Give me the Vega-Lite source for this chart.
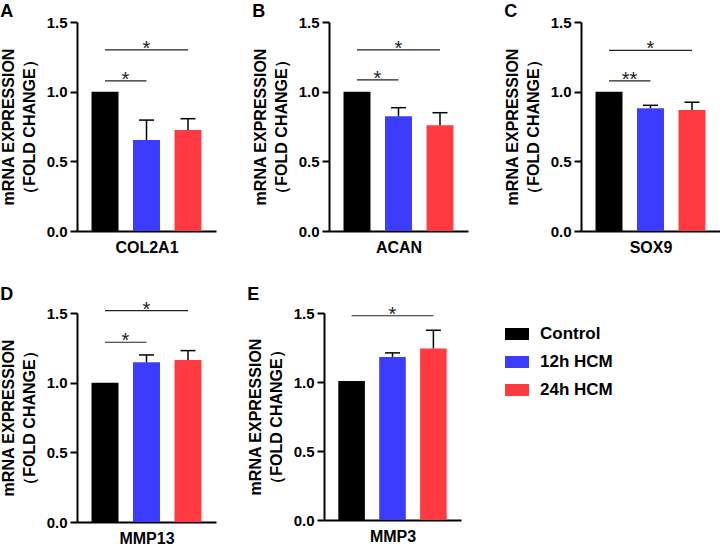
{
  "$schema": "https://vega.github.io/schema/vega-lite/v6.json",
  "background": "white",
  "padding": {"left": 0, "top": 3, "right": 0, "bottom": 0},
  "config": {
    "font": "Liberation Sans",
    "view": {"stroke": null},
    "axis": {
      "grid": false,
      "domainColor": "black",
      "domainWidth": 2,
      "tickColor": "black",
      "tickWidth": 2,
      "labelColor": "black",
      "titleColor": "black",
      "labelFont": "Liberation Sans",
      "titleFont": "Liberation Sans",
      "labelFontWeight": "bold",
      "titleFontWeight": "bold",
      "labelFontSize": 15,
      "titleFontSize": 16
    },
    "axisY": {
      "tickSize": 7,
      "labelPadding": 3,
      "titlePadding": 9,
      "titleLineHeight": 21
    },
    "axisX": {"ticks": false, "labels": false, "titlePadding": 8},
    "text": {"fontSize": 20, "baseline": "alphabetic", "dy": 5, "color": "#222222"},
    "title": {"anchor": "start", "frame": "bounds", "fontSize": 18, "fontWeight": "bold", "color": "black", "offset": -6}
  },
  "datasets": {
    "bars": [
      {"gene": "COL2A1", "group": "Control", "mean": 1.0, "upper": 1.0},
      {"gene": "COL2A1", "group": "12h HCM", "mean": 0.653, "upper": 0.796},
      {"gene": "COL2A1", "group": "24h HCM", "mean": 0.724, "upper": 0.806},
      {"gene": "ACAN", "group": "Control", "mean": 1.0, "upper": 1.0},
      {"gene": "ACAN", "group": "12h HCM", "mean": 0.823, "upper": 0.885},
      {"gene": "ACAN", "group": "24h HCM", "mean": 0.759, "upper": 0.849},
      {"gene": "SOX9", "group": "Control", "mean": 1.0, "upper": 1.0},
      {"gene": "SOX9", "group": "12h HCM", "mean": 0.881, "upper": 0.902},
      {"gene": "SOX9", "group": "24h HCM", "mean": 0.869, "upper": 0.924},
      {"gene": "MMP13", "group": "Control", "mean": 1.0, "upper": 1.0},
      {"gene": "MMP13", "group": "12h HCM", "mean": 1.146, "upper": 1.199},
      {"gene": "MMP13", "group": "24h HCM", "mean": 1.163, "upper": 1.23},
      {"gene": "MMP3", "group": "Control", "mean": 1.008, "upper": 1.008},
      {"gene": "MMP3", "group": "12h HCM", "mean": 1.182, "upper": 1.211},
      {"gene": "MMP3", "group": "24h HCM", "mean": 1.243, "upper": 1.375}
    ],
    "sig": [
      {"gene": "COL2A1", "from": "Control", "to": "12h HCM", "span": 1, "y": 1.077, "label": "*"},
      {"gene": "COL2A1", "from": "Control", "to": "24h HCM", "span": 2, "y": 1.3, "label": "*"},
      {"gene": "ACAN", "from": "Control", "to": "12h HCM", "span": 1, "y": 1.084, "label": "*"},
      {"gene": "ACAN", "from": "Control", "to": "24h HCM", "span": 2, "y": 1.3, "label": "*"},
      {"gene": "SOX9", "from": "Control", "to": "12h HCM", "span": 1, "y": 1.077, "label": "**"},
      {"gene": "SOX9", "from": "Control", "to": "24h HCM", "span": 2, "y": 1.297, "label": "*"},
      {"gene": "MMP13", "from": "Control", "to": "12h HCM", "span": 1, "y": 1.29, "label": "*"},
      {"gene": "MMP13", "from": "Control", "to": "24h HCM", "span": 2, "y": 1.517, "label": "*"},
      {"gene": "MMP3", "from": "Control", "to": "24h HCM", "span": 2, "y": 1.48, "label": "*"}
    ]
  },
  "resolve": {"scale": {"color": "independent"}, "legend": {"color": "independent"}},
  "spacing": 30,
  "vconcat": [
    {
      "spacing": 36,
      "resolve": {"scale": {"color": "independent"}, "legend": {"color": "independent"}},
      "hconcat": [
        {
          "width": 139, "height": 209,
          "title": {"text": "A"},
          "layer": [
            {
              "data": {"name": "bars"},
              "transform": [{"filter": "datum.gene === 'COL2A1'"}],
              "mark": {"type": "bar"},
              "encoding": {
                "x": {"field": "group", "type": "nominal", "title": "COL2A1", "scale": {"domain": ["Control", "12h HCM", "24h HCM"], "paddingInner": 0.35, "paddingOuter": 0.35}},
                "y": {"field": "mean", "type": "quantitative", "title": ["mRNA EXPRESSION", "（FOLD CHANGE）"], "axis": {"values": [0, 0.5, 1, 1.5], "format": ".1f"}, "scale": {"domain": [0, 1.5], "nice": false}},
                "color": {"field": "group", "type": "nominal", "legend": null, "scale": {"domain": ["Control", "12h HCM", "24h HCM"], "range": ["#000000", "#3c3cff", "#ff3b41"]}}
              }
            },
            {
              "data": {"name": "bars"},
              "transform": [{"filter": "datum.gene === 'COL2A1' && datum.upper > datum.mean"}],
              "mark": {"type": "rule", "color": "black", "strokeWidth": 1.5},
              "encoding": {
                "x": {"field": "group", "type": "nominal"},
                "y": {"field": "mean", "type": "quantitative"},
                "y2": {"field": "upper"}
              }
            },
            {
              "data": {"name": "bars"},
              "transform": [{"filter": "datum.gene === 'COL2A1' && datum.upper > datum.mean"}],
              "mark": {"type": "tick", "orient": "horizontal", "size": 15, "thickness": 1.5, "color": "black", "opacity": 1},
              "encoding": {
                "x": {"field": "group", "type": "nominal"},
                "y": {"field": "upper", "type": "quantitative"}
              }
            },
            {
              "data": {"name": "sig"},
              "transform": [{"filter": "datum.gene === 'COL2A1'"}],
              "mark": {"type": "rule", "color": "#222222", "strokeWidth": 1.2},
              "encoding": {
                "x": {"field": "from", "type": "nominal"},
                "x2": {"field": "to"},
                "y": {"field": "y", "type": "quantitative"}
              }
            },
            {
              "data": {"name": "sig"},
              "transform": [{"filter": "datum.gene === 'COL2A1' && datum.span === 1"}],
              "mark": {"type": "text", "dx": -21},
              "encoding": {
                "x": {"field": "to", "type": "nominal"},
                "y": {"field": "y", "type": "quantitative"},
                "text": {"field": "label"}
              }
            },
            {
              "data": {"name": "sig"},
              "transform": [{"filter": "datum.gene === 'COL2A1' && datum.span === 2"}],
              "mark": {"type": "text", "dx": -41.5},
              "encoding": {
                "x": {"field": "to", "type": "nominal"},
                "y": {"field": "y", "type": "quantitative"},
                "text": {"field": "label"}
              }
            }
          ]
        },
        {
          "width": 139, "height": 209,
          "title": {"text": "B"},
          "layer": [
            {
              "data": {"name": "bars"},
              "transform": [{"filter": "datum.gene === 'ACAN'"}],
              "mark": {"type": "bar"},
              "encoding": {
                "x": {"field": "group", "type": "nominal", "title": "ACAN", "scale": {"domain": ["Control", "12h HCM", "24h HCM"], "paddingInner": 0.35, "paddingOuter": 0.35}},
                "y": {"field": "mean", "type": "quantitative", "title": ["mRNA EXPRESSION", "（FOLD CHANGE）"], "axis": {"values": [0, 0.5, 1, 1.5], "format": ".1f"}, "scale": {"domain": [0, 1.5], "nice": false}},
                "color": {"field": "group", "type": "nominal", "legend": null, "scale": {"domain": ["Control", "12h HCM", "24h HCM"], "range": ["#000000", "#3c3cff", "#ff3b41"]}}
              }
            },
            {
              "data": {"name": "bars"},
              "transform": [{"filter": "datum.gene === 'ACAN' && datum.upper > datum.mean"}],
              "mark": {"type": "rule", "color": "black", "strokeWidth": 1.5},
              "encoding": {
                "x": {"field": "group", "type": "nominal"},
                "y": {"field": "mean", "type": "quantitative"},
                "y2": {"field": "upper"}
              }
            },
            {
              "data": {"name": "bars"},
              "transform": [{"filter": "datum.gene === 'ACAN' && datum.upper > datum.mean"}],
              "mark": {"type": "tick", "orient": "horizontal", "size": 15, "thickness": 1.5, "color": "black", "opacity": 1},
              "encoding": {
                "x": {"field": "group", "type": "nominal"},
                "y": {"field": "upper", "type": "quantitative"}
              }
            },
            {
              "data": {"name": "sig"},
              "transform": [{"filter": "datum.gene === 'ACAN'"}],
              "mark": {"type": "rule", "color": "#222222", "strokeWidth": 1.2},
              "encoding": {
                "x": {"field": "from", "type": "nominal"},
                "x2": {"field": "to"},
                "y": {"field": "y", "type": "quantitative"}
              }
            },
            {
              "data": {"name": "sig"},
              "transform": [{"filter": "datum.gene === 'ACAN' && datum.span === 1"}],
              "mark": {"type": "text", "dx": -21},
              "encoding": {
                "x": {"field": "to", "type": "nominal"},
                "y": {"field": "y", "type": "quantitative"},
                "text": {"field": "label"}
              }
            },
            {
              "data": {"name": "sig"},
              "transform": [{"filter": "datum.gene === 'ACAN' && datum.span === 2"}],
              "mark": {"type": "text", "dx": -41.5},
              "encoding": {
                "x": {"field": "to", "type": "nominal"},
                "y": {"field": "y", "type": "quantitative"},
                "text": {"field": "label"}
              }
            }
          ]
        },
        {
          "width": 139, "height": 209,
          "title": {"text": "C"},
          "layer": [
            {
              "data": {"name": "bars"},
              "transform": [{"filter": "datum.gene === 'SOX9'"}],
              "mark": {"type": "bar"},
              "encoding": {
                "x": {"field": "group", "type": "nominal", "title": "SOX9", "scale": {"domain": ["Control", "12h HCM", "24h HCM"], "paddingInner": 0.35, "paddingOuter": 0.35}},
                "y": {"field": "mean", "type": "quantitative", "title": ["mRNA EXPRESSION", "（FOLD CHANGE）"], "axis": {"values": [0, 0.5, 1, 1.5], "format": ".1f"}, "scale": {"domain": [0, 1.5], "nice": false}},
                "color": {"field": "group", "type": "nominal", "legend": null, "scale": {"domain": ["Control", "12h HCM", "24h HCM"], "range": ["#000000", "#3c3cff", "#ff3b41"]}}
              }
            },
            {
              "data": {"name": "bars"},
              "transform": [{"filter": "datum.gene === 'SOX9' && datum.upper > datum.mean"}],
              "mark": {"type": "rule", "color": "black", "strokeWidth": 1.5},
              "encoding": {
                "x": {"field": "group", "type": "nominal"},
                "y": {"field": "mean", "type": "quantitative"},
                "y2": {"field": "upper"}
              }
            },
            {
              "data": {"name": "bars"},
              "transform": [{"filter": "datum.gene === 'SOX9' && datum.upper > datum.mean"}],
              "mark": {"type": "tick", "orient": "horizontal", "size": 15, "thickness": 1.5, "color": "black", "opacity": 1},
              "encoding": {
                "x": {"field": "group", "type": "nominal"},
                "y": {"field": "upper", "type": "quantitative"}
              }
            },
            {
              "data": {"name": "sig"},
              "transform": [{"filter": "datum.gene === 'SOX9'"}],
              "mark": {"type": "rule", "color": "#222222", "strokeWidth": 1.2},
              "encoding": {
                "x": {"field": "from", "type": "nominal"},
                "x2": {"field": "to"},
                "y": {"field": "y", "type": "quantitative"}
              }
            },
            {
              "data": {"name": "sig"},
              "transform": [{"filter": "datum.gene === 'SOX9' && datum.span === 1"}],
              "mark": {"type": "text", "dx": -21},
              "encoding": {
                "x": {"field": "to", "type": "nominal"},
                "y": {"field": "y", "type": "quantitative"},
                "text": {"field": "label"}
              }
            },
            {
              "data": {"name": "sig"},
              "transform": [{"filter": "datum.gene === 'SOX9' && datum.span === 2"}],
              "mark": {"type": "text", "dx": -41.5},
              "encoding": {
                "x": {"field": "to", "type": "nominal"},
                "y": {"field": "y", "type": "quantitative"},
                "text": {"field": "label"}
              }
            }
          ]
        }
      ]
    },
    {
      "spacing": 31,
      "resolve": {"scale": {"color": "independent"}, "legend": {"color": "independent"}},
      "hconcat": [
        {
          "resolve": {"scale": {"color": "independent"}, "legend": {"color": "independent"}},
          "vconcat": [
            {
              "width": 139, "height": 209,
              "title": {"text": "D", "offset": -4},
              "layer": [
                {
                  "data": {"name": "bars"},
                  "transform": [{"filter": "datum.gene === 'MMP13'"}],
                  "mark": {"type": "bar"},
                  "encoding": {
                    "x": {"field": "group", "type": "nominal", "title": "MMP13", "scale": {"domain": ["Control", "12h HCM", "24h HCM"], "paddingInner": 0.35, "paddingOuter": 0.35}},
                    "y": {"field": "mean", "type": "quantitative", "title": ["mRNA EXPRESSION", "（FOLD CHANGE）"], "axis": {"values": [0, 0.5, 1, 1.5], "format": ".1f"}, "scale": {"domain": [0, 1.5], "nice": false}},
                    "color": {"field": "group", "type": "nominal", "legend": null, "scale": {"domain": ["Control", "12h HCM", "24h HCM"], "range": ["#000000", "#3c3cff", "#ff3b41"]}}
                  }
                },
                {
                  "data": {"name": "bars"},
                  "transform": [{"filter": "datum.gene === 'MMP13' && datum.upper > datum.mean"}],
                  "mark": {"type": "rule", "color": "black", "strokeWidth": 1.5},
                  "encoding": {
                    "x": {"field": "group", "type": "nominal"},
                    "y": {"field": "mean", "type": "quantitative"},
                    "y2": {"field": "upper"}
                  }
                },
                {
                  "data": {"name": "bars"},
                  "transform": [{"filter": "datum.gene === 'MMP13' && datum.upper > datum.mean"}],
                  "mark": {"type": "tick", "orient": "horizontal", "size": 15, "thickness": 1.5, "color": "black", "opacity": 1},
                  "encoding": {
                    "x": {"field": "group", "type": "nominal"},
                    "y": {"field": "upper", "type": "quantitative"}
                  }
                },
                {
                  "data": {"name": "sig"},
                  "transform": [{"filter": "datum.gene === 'MMP13'"}],
                  "mark": {"type": "rule", "color": "#222222", "strokeWidth": 1.2},
                  "encoding": {
                    "x": {"field": "from", "type": "nominal"},
                    "x2": {"field": "to"},
                    "y": {"field": "y", "type": "quantitative"}
                  }
                },
                {
                  "data": {"name": "sig"},
                  "transform": [{"filter": "datum.gene === 'MMP13' && datum.span === 1"}],
                  "mark": {"type": "text", "dx": -21},
                  "encoding": {
                    "x": {"field": "to", "type": "nominal"},
                    "y": {"field": "y", "type": "quantitative"},
                    "text": {"field": "label"}
                  }
                },
                {
                  "data": {"name": "sig"},
                  "transform": [{"filter": "datum.gene === 'MMP13' && datum.span === 2"}],
                  "mark": {"type": "text", "dx": -41.5},
                  "encoding": {
                    "x": {"field": "to", "type": "nominal"},
                    "y": {"field": "y", "type": "quantitative"},
                    "text": {"field": "label"}
                  }
                }
              ]
            }
          ]
        },
        {
          "resolve": {"scale": {"color": "independent"}, "legend": {"color": "independent"}},
          "vconcat": [
            {
              "width": 137, "height": 207,
              "title": {"text": "E", "offset": 1},
              "layer": [
                {
                  "data": {"name": "bars"},
                  "transform": [{"filter": "datum.gene === 'MMP3'"}],
                  "mark": {"type": "bar"},
                  "encoding": {
                    "x": {"field": "group", "type": "nominal", "title": "MMP3", "scale": {"domain": ["Control", "12h HCM", "24h HCM"], "paddingInner": 0.35, "paddingOuter": 0.35}},
                    "y": {"field": "mean", "type": "quantitative", "title": ["mRNA EXPRESSION", "（FOLD CHANGE）"], "axis": {"values": [0, 0.5, 1, 1.5], "format": ".1f"}, "scale": {"domain": [0, 1.5], "nice": false}},
                    "color": {
                      "field": "group", "type": "nominal",
                      "scale": {"domain": ["Control", "12h HCM", "24h HCM"], "range": ["#000000", "#3c3cff", "#ff3b41"]},
                      "legend": {
                        "orient": "right",
                        "title": null,
                        "offset": 35,
                        "padding": 9,
                        "symbolType": "M-1,-0.5H1V0.5H-1Z",
                        "symbolSize": 576,
                        "symbolStrokeWidth": 0,
                        "labelFont": "Liberation Sans",
                        "labelFontSize": 17,
                        "labelFontWeight": "bold",
                        "labelColor": "black",
                        "labelOffset": 11,
                        "rowPadding": 8
                      }
                    }
                  }
                },
                {
                  "data": {"name": "bars"},
                  "transform": [{"filter": "datum.gene === 'MMP3' && datum.upper > datum.mean"}],
                  "mark": {"type": "rule", "color": "black", "strokeWidth": 1.5},
                  "encoding": {
                    "x": {"field": "group", "type": "nominal"},
                    "y": {"field": "mean", "type": "quantitative"},
                    "y2": {"field": "upper"}
                  }
                },
                {
                  "data": {"name": "bars"},
                  "transform": [{"filter": "datum.gene === 'MMP3' && datum.upper > datum.mean"}],
                  "mark": {"type": "tick", "orient": "horizontal", "size": 15, "thickness": 1.5, "color": "black", "opacity": 1},
                  "encoding": {
                    "x": {"field": "group", "type": "nominal"},
                    "y": {"field": "upper", "type": "quantitative"}
                  }
                },
                {
                  "data": {"name": "sig"},
                  "transform": [{"filter": "datum.gene === 'MMP3'"}],
                  "mark": {"type": "rule", "color": "#222222", "strokeWidth": 1.2},
                  "encoding": {
                    "x": {"field": "from", "type": "nominal"},
                    "x2": {"field": "to"},
                    "y": {"field": "y", "type": "quantitative"}
                  }
                },
                {
                  "data": {"name": "sig"},
                  "transform": [{"filter": "datum.gene === 'MMP3' && datum.span === 2"}],
                  "mark": {"type": "text", "dx": -41},
                  "encoding": {
                    "x": {"field": "to", "type": "nominal"},
                    "y": {"field": "y", "type": "quantitative"},
                    "text": {"field": "label"}
                  }
                }
              ]
            }
          ]
        }
      ]
    }
  ]
}
